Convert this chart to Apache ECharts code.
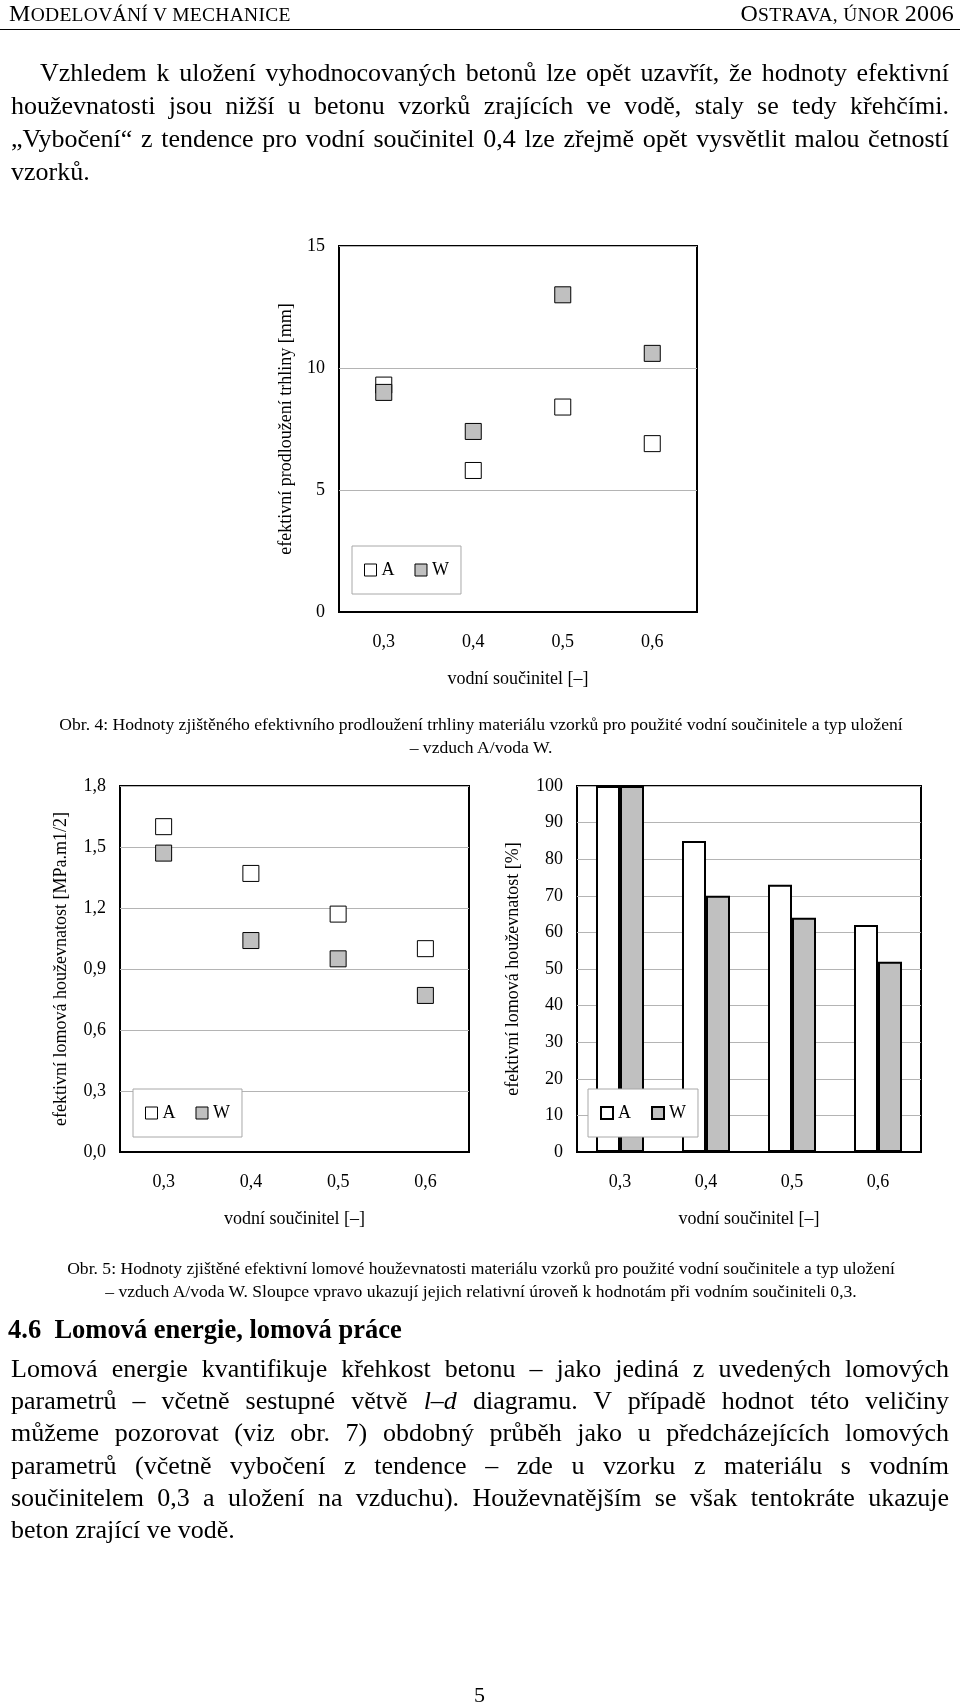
<!DOCTYPE html>
<html>
<head>
<meta charset="utf-8">
<script src="https://cdn.jsdelivr.net/npm/echarts@6/dist/echarts.min.js"></script>
<style>
  html, body { margin: 0; padding: 0; background: #fff; }
  body { width: 960px; height: 1707px; position: relative; overflow: hidden;
         font-family: "Liberation Serif", "DejaVu Serif", serif; color: #000; }
  #chart { position: absolute; left: 0; top: 0; width: 960px; height: 1707px; }
  .t { position: absolute; z-index: 2; white-space: pre; }
  .j { position: absolute; z-index: 2; left: 11px; width: 938px; text-align: justify; text-align-last: justify; }
  .p1 { font-size: 26px; line-height: 33px; }
  .p2 { font-size: 26px; line-height: 32px; }
  .cap { position: absolute; z-index: 2; left: 0; width: 962px; text-align: center; font-size: 17.6px; line-height: 22.5px; }
  .hdr { font-size: 19.5px; line-height: 22px; letter-spacing: 0.3px; }
  .hdr b { font-weight: normal; font-size: 24px; }
</style>
</head>
<body>
<div id="chart"></div>

<div class="t hdr" style="left:9px; top:2px;"><b>M</b>ODELOVÁNÍ V MECHANICE</div>
<div class="t hdr" style="right:6px; top:2px;"><b>O</b>STRAVA, ÚNOR <b>2006</b></div>
<div style="position:absolute; left:0; top:29px; width:960px; height:1px; background:#000; z-index:2;"></div>

<div class="j p1" style="top:56px; left:40px; width:909px;">Vzhledem k uložení vyhodnocovaných betonů lze opět uzavřít, že hodnoty efektivní</div>
<div class="j p1" style="top:89px;">houževnatosti jsou nižší u betonu vzorků zrajících ve vodě, staly se tedy křehčími.</div>
<div class="j p1" style="top:122px;">„Vybočení“ z tendence pro vodní součinitel 0,4 lze zřejmě opět vysvětlit malou četností</div>
<div class="t p1" style="left:11px; top:155px;">vzorků.</div>

<div class="cap" style="top:713px;">Obr. 4: Hodnoty zjištěného efektivního prodloužení trhliny materiálu vzorků pro použité vodní součinitele a typ uložení<br>– vzduch A/voda W.</div>

<div class="cap" style="top:1257px;">Obr. 5: Hodnoty zjištěné efektivní lomové houževnatosti materiálu vzorků pro použité vodní součinitele a typ uložení<br>– vzduch A/voda W. Sloupce vpravo ukazují jejich relativní úroveň k hodnotám při vodním součiniteli 0,3.</div>

<div class="t" style="left:8px; top:1314px; font-size:26.5px; line-height:30px; font-weight:bold;">4.6  Lomová energie, lomová práce</div>

<div class="j p2" style="top:1353px;">Lomová energie kvantifikuje křehkost betonu – jako jediná z uvedených lomových</div>
<div class="j p2" style="top:1385px;">parametrů – včetně sestupné větvě <i>l–d</i> diagramu. V případě hodnot této veličiny</div>
<div class="j p2" style="top:1417px;">můžeme pozorovat (viz obr. 7) obdobný průběh jako u předcházejících lomových</div>
<div class="j p2" style="top:1450px;">parametrů (včetně vybočení z tendence – zde u vzorku z materiálu s vodním</div>
<div class="j p2" style="top:1482px;">součinitelem 0,3 a uložení na vzduchu). Houževnatějším se však tentokráte ukazuje</div>
<div class="t p2" style="left:11px; top:1514px;">beton zrající ve vodě.</div>

<div class="t" style="left:474px; top:1682px; font-size:22px;">5</div>

<script>
// vodní součinitel
const categories = ['0,3', '0,4', '0,5', '0,6'];
// Obr. 4 - prodloužení trhliny [mm]
const crackA = [9.3, 5.8, 8.4, 6.9];
const crackW = [9.0, 7.4, 13.0, 10.6];
// Obr. 5 vlevo - lomová houževnatost [MPa.m1/2]
const toughA = [1.60, 1.37, 1.17, 1.00];
const toughW = [1.47, 1.04, 0.95, 0.77];
// Obr. 5 vpravo - relativní houževnatost [%]
const relA = [100, 85, 73, 62];
const relW = [100, 70, 64, 52];

const FONT = 'Liberation Serif';
const GRAY = '#c0c0c0';

const chart = echarts.init(document.getElementById('chart'));

function xAxisFor(gridIndex) {
  return {
    type: 'category',
    gridIndex: gridIndex,
    data: categories,
    name: 'vodní součinitel [–]',
    nameLocation: 'middle',
    nameGap: 58,
    nameTextStyle: { fontFamily: FONT, fontSize: 18, color: '#000' },
    axisLine: { lineStyle: { color: '#000', width: 2 } },
    axisTick: { inside: true, length: 7, lineStyle: { color: '#000', width: 2 } },
    axisLabel: { margin: 21, fontFamily: FONT, fontSize: 18, color: '#000' },
    splitLine: { show: false }
  };
}

function yAxisFor(gridIndex, name, max, interval, gap, fmt) {
  return {
    type: 'value',
    gridIndex: gridIndex,
    min: 0,
    max: max,
    interval: interval,
    name: name,
    nameLocation: 'middle',
    nameGap: gap,
    nameTextStyle: { fontFamily: FONT, fontSize: 18, color: '#000' },
    axisLine: { show: false },
    axisTick: { show: false },
    axisLabel: { margin: 14, fontFamily: FONT, fontSize: 18, color: '#000', formatter: fmt },
    splitLine: { lineStyle: { color: '#b4b4b4', width: 1 } }
  };
}

function legendFor(left, top, bw) {
  return {
    left: left,
    top: top,
    orient: 'horizontal',
    icon: 'rect',
    itemWidth: 12,
    itemHeight: 12,
    itemGap: 20,
    padding: [15, 12],
    borderColor: '#a8a8a8',
    borderWidth: 1,
    backgroundColor: '#fff',
    textStyle: { fontFamily: FONT, fontSize: 18, color: '#000' },
    data: [
      { name: 'A', itemStyle: { color: '#fff', borderColor: '#000', borderWidth: bw } },
      { name: 'W', itemStyle: { color: GRAY, borderColor: '#000', borderWidth: bw } }
    ]
  };
}

const gridBase = { show: true, borderColor: '#000', borderWidth: 2, backgroundColor: 'transparent' };

function scatter(name, data, idx, fill) {
  return {
    name: name,
    type: 'scatter',
    xAxisIndex: idx,
    yAxisIndex: idx,
    symbol: 'rect',
    symbolSize: 16,
    itemStyle: { color: fill, borderColor: '#000', borderWidth: 1, opacity: 1 },
    data: data
  };
}

function bar(name, data, fill) {
  return {
    name: name,
    type: 'bar',
    xAxisIndex: 2,
    yAxisIndex: 2,
    barWidth: 24,
    barGap: '0%',
    itemStyle: { color: fill, borderColor: '#000', borderWidth: 2 },
    data: data
  };
}

const comma = (v) => v.toFixed(1).replace('.', ',');

const option = {
  animation: false,
  grid: [
    Object.assign({ left: 339, top: 246, width: 358, height: 366 }, gridBase),
    Object.assign({ left: 120, top: 786, width: 349, height: 366 }, gridBase),
    Object.assign({ left: 577, top: 786, width: 344, height: 366 }, gridBase)
  ],
  xAxis: [xAxisFor(0), xAxisFor(1), xAxisFor(2)],
  yAxis: [
    yAxisFor(0, 'efektivní prodloužení trhliny [mm]', 15, 5, 44),
    yAxisFor(1, 'efektivní lomová houževnatost [MPa.m1/2]', 1.8, 0.3, 50, comma),
    yAxisFor(2, 'efektivní lomová houževnatost [%]', 100, 10, 55)
  ],
  legend: [
    legendFor(352, 546, 1),
    legendFor(133, 1089, 1),
    legendFor(588, 1089, 2)
  ],
  series: [
    scatter('A', crackA, 0, '#fff'),
    scatter('W', crackW, 0, GRAY),
    scatter('A', toughA, 1, '#fff'),
    scatter('W', toughW, 1, GRAY),
    bar('A', relA, '#fff'),
    bar('W', relW, GRAY)
  ]
};

chart.setOption(option);
</script>
</body>
</html>
